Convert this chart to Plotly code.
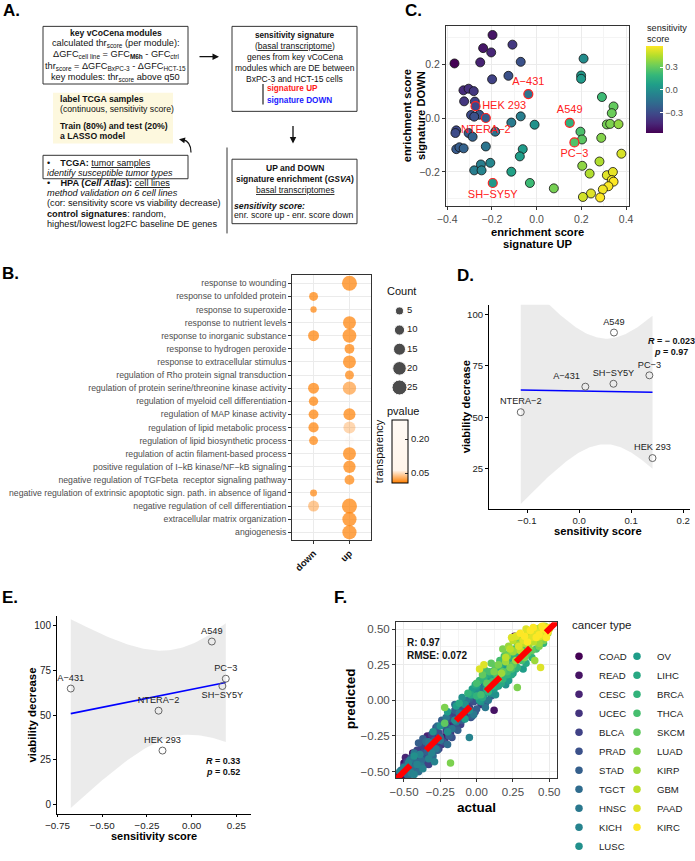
import numpy as np
import plotly.graph_objects as go
from plotly.colors import sample_colorscale

W, H = 695, 861
FONT = "Liberation Sans, Arial, Helvetica, sans-serif"

# ---------------- DATA ----------------
# Panel C: HPA cell lines, GSVA enrichment scores
hpa_up = [-0.197, -0.108, -0.239, -0.203, -0.367, -0.252, -0.071, -0.126, -0.199, -0.327,
          -0.304, -0.281, -0.324, -0.276, -0.293, -0.256, -0.279, -0.071, -0.113, -0.009,
          -0.359, -0.363, -0.304, -0.286, -0.185, -0.359, -0.345, -0.326, -0.227, -0.062,
          -0.075, -0.207, -0.249, -0.279, -0.246, -0.113, -0.030, 0.077, 0.210, 0.199,
          0.199, 0.292, 0.344, 0.336, 0.314, 0.329, 0.366, 0.196, 0.203, 0.289,
          0.379, 0.281, 0.204, 0.237, 0.314, 0.341, 0.336, 0.344, 0.321, 0.296,
          0.243, 0.207, 0.284]
hpa_down = [0.310, 0.274, 0.261, 0.245, 0.204, 0.208, 0.210, 0.158, 0.145, 0.104,
            0.110, 0.101, 0.063, 0.062, 0.012, 0.013, 0.006, 0.007, -0.016, -0.024,
            -0.045, -0.055, -0.055, -0.069, -0.050, -0.115, -0.108, -0.112, -0.105, -0.115,
            -0.142, -0.166, -0.172, -0.194, -0.194, -0.199, -0.241, -0.261, 0.222, 0.159,
            0.147, 0.079, 0.044, 0.019, -0.023, -0.021, -0.022, -0.050, -0.079, -0.073,
            -0.132, -0.161, -0.177, -0.206, -0.212, -0.200, -0.230, -0.236, -0.253, -0.265,
            -0.280, -0.293, -0.295]
cell_lines = ["A-431", "A549", "HEK 293", "NTERA-2", "PC-3", "SH-SY5Y"]
val_up = [-0.037, 0.148, -0.273, -0.227, 0.169, -0.196]
val_down = [0.090, -0.017, 0.045, 0.001, -0.090, -0.241]

# Panel B: GO enrichment dot plot
go_terms = ["response to wounding", "response to unfolded protein", "response to superoxide",
            "response to nutrient levels", "response to inorganic substance",
            "response to hydrogen peroxide", "response to extracellular stimulus",
            "regulation of Rho protein signal transduction",
            "regulation of protein serine/threonine kinase activity",
            "regulation of myeloid cell differentiation", "regulation of MAP kinase activity",
            "regulation of lipid metabolic process", "regulation of lipid biosynthetic process",
            "regulation of actin filament-based process",
            "positive regulation of I−kB kinase/NF−kB signaling",
            "negative regulation of TGFbeta  receptor signaling pathway",
            "negative regulation of extrinsic apoptotic sign. path. in absence of ligand",
            "negative regulation of cell differentiation", "extracellular matrix organization",
            "angiogenesis"]
b_term = [0, 1, 2, 3, 4, 4, 5, 6, 7, 8, 8, 9, 10, 10, 11, 11, 12, 12, 13, 14, 15, 16, 17, 17, 18, 19]
b_cluster = ["up", "down", "down", "up", "down", "up", "up", "up", "up", "down", "up", "down",
             "down", "up", "down", "up", "down", "up", "up", "up", "up", "down", "down", "up",
             "up", "up"]
b_count = [25, 7, 2, 18, 12, 21, 9, 18, 7, 12, 19, 8, 9, 15, 10, 15, 7, 7, 18, 16, 9, 3, 12, 25, 22, 22]
b_pvalue = [0.006, 0.006, 0.007, 0.006, 0.006, 0.006, 0.006, 0.006, 0.007, 0.006, 0.020, 0.006,
            0.006, 0.006, 0.006, 0.040, 0.007, 0.284, 0.006, 0.006, 0.007, 0.008, 0.030, 0.006,
            0.006, 0.006]
count_breaks = [5, 10, 15, 20, 25]
pvalue_breaks = [0.05, 0.20]

# Panels D / E: validation on 6 cell lines
viability = [64.9, 91.2, 30.2, 52.5, 70.4, 66.3]
score_ctrl = [0.012, 0.067, 0.141, -0.112, 0.135, 0.066]     # D (control signature)
score_sens = [-0.676, 0.113, -0.163, -0.185, 0.191, 0.172]   # E (sensitivity signature)
T975_DF4 = 2.776

# Panel F: LASSO predicted vs actual sensitivity score in TCGA
cancer_types = ["COAD", "READ", "CESC", "UCEC", "BLCA", "PRAD", "STAD", "TGCT", "HNSC", "KICH",
                "LUSC", "OV", "LIHC", "BRCA", "THCA", "SKCM", "LUAD", "KIRP", "GBM", "PAAD", "KIRC"]
f_actual = [
    [-0.52, -0.48, -0.45, -0.42, -0.40, -0.37, -0.33, -0.30, -0.27, 0.26, -0.50, -0.46, -0.44, -0.39, -0.35, -0.31, -0.25],
    [-0.50, -0.47, -0.44, -0.41, -0.38, -0.35, -0.31, -0.28, -0.24, 0.12, -0.53, -0.49, -0.43, -0.36, -0.33, -0.29, -0.21],
    [-0.49, -0.46, -0.43, -0.39, -0.34, -0.30, -0.26, -0.22, -0.18, -0.14, -0.10, -0.51, -0.45, -0.37, -0.32, -0.28, -0.20, -0.12],
    [-0.47, -0.44, -0.40, -0.36, -0.32, -0.27, -0.22, -0.18, -0.13, -0.08, -0.03, 0.03, -0.50, -0.42, -0.38, -0.30, -0.24, -0.15, -0.05],
    [-0.45, -0.41, -0.36, -0.31, -0.26, -0.21, -0.16, -0.11, -0.06, -0.01, 0.05, -0.48, -0.38, -0.33, -0.28, -0.19, -0.08, 0.02],
    [-0.42, -0.37, -0.32, -0.28, -0.23, -0.19, -0.14, -0.09, -0.04, 0.01, 0.06, -0.45, -0.34, -0.26, -0.17, -0.11, -0.02, 0.08],
    [-0.40, -0.34, -0.29, -0.24, -0.19, -0.15, -0.10, -0.05, 0.00, 0.05, 0.10, -0.44, -0.37, -0.27, -0.21, -0.13, -0.03, 0.03],
    [-0.48, -0.44, -0.40, -0.35, -0.30, -0.25, -0.20, -0.15, -0.09, -0.52, -0.46, -0.42, -0.38, -0.33, -0.27],
    [-0.46, -0.38, -0.28, -0.21, -0.17, -0.12, -0.07, -0.02, 0.03, 0.08, 0.13, -0.43, -0.33, -0.25, -0.14, -0.04, 0.06, 0.11],
    [-0.50, -0.45, -0.41, -0.37, -0.33, -0.29, -0.05, 0.05, -0.53, -0.47, -0.43, -0.39, -0.31, -0.02],
    [-0.43, -0.25, -0.15, -0.10, -0.05, 0.00, 0.06, 0.10, 0.15, 0.20, -0.30, -0.20, -0.08, 0.03, 0.08, 0.13, 0.18],
    [-0.20, -0.08, -0.03, 0.02, 0.07, 0.12, 0.17, 0.22, 0.27, 0.32, -0.14, 0.00, 0.05, 0.10, 0.15, 0.20, 0.25],
    [-0.12, -0.01, 0.04, 0.09, 0.14, 0.19, 0.24, 0.29, 0.34, 0.39, -0.04, 0.07, 0.12, 0.17, 0.22, 0.27, 0.32],
    [-0.06, 0.02, 0.08, 0.13, 0.18, 0.23, 0.28, 0.33, 0.38, 0.43, 0.46, 0.00, 0.05, 0.11, 0.16, 0.21, 0.26, 0.36],
    [0.00, 0.06, 0.11, 0.16, 0.21, 0.26, 0.31, 0.36, 0.41, 0.46, 0.03, 0.09, 0.14, 0.19, 0.24, 0.34, 0.44],
    [-0.22, 0.04, 0.10, 0.15, 0.20, 0.25, 0.30, 0.35, 0.40, 0.45, 0.07, 0.13, 0.18, 0.23, 0.33, 0.38, 0.42],
    [-0.22, -0.18, 0.12, 0.18, 0.23, 0.28, 0.28, 0.33, 0.38, 0.43, 0.48, 0.15, 0.21, 0.26, 0.31, 0.36, 0.41, 0.46],
    [0.17, 0.22, 0.27, 0.31, 0.36, 0.40, 0.41, 0.45, 0.49, 0.20, 0.25, 0.29, 0.34, 0.38, 0.43, 0.47],
    [0.20, 0.25, 0.30, 0.35, 0.39, 0.44, 0.47, 0.50, 0.23, 0.28, 0.33, 0.37, 0.42, 0.46],
    [0.02, 0.05, 0.24, 0.29, 0.34, 0.38, 0.42, 0.46, 0.44, 0.27, 0.32, 0.36, 0.40, 0.44, 0.48],
    [0.30, 0.35, 0.39, 0.43, 0.46, 0.48, 0.50, 0.33, 0.37, 0.41, 0.45, 0.49],
]
f_predicted = [
    [-0.50, -0.45, -0.41, -0.47, -0.36, -0.43, -0.30, -0.36, -0.33, 0.45, -0.53, -0.49, -0.44, -0.40, -0.34, -0.41, -0.27],
    [-0.44, -0.51, -0.37, -0.42, -0.31, -0.39, -0.27, -0.22, -0.30, -0.07, -0.52, -0.47, -0.48, -0.45, -0.35, -0.30, -0.25],
    [-0.40, -0.48, -0.44, -0.45, -0.25, -0.31, -0.23, -0.28, -0.16, -0.20, -0.05, -0.49, -0.42, -0.38, -0.42, -0.26, -0.12, -0.14],
    [-0.43, -0.50, -0.40, -0.33, -0.38, -0.27, -0.17, -0.23, -0.12, -0.10, 0.01, -0.03, -0.46, -0.38, -0.43, -0.33, -0.31, -0.16, -0.05],
    [-0.46, -0.35, -0.42, -0.24, -0.34, -0.21, -0.10, -0.17, -0.03, -0.08, 0.07, -0.43, -0.32, -0.45, -0.29, -0.24, -0.12, 0.00],
    [-0.49, -0.37, -0.33, -0.19, -0.29, -0.13, -0.19, -0.04, -0.12, 0.04, -0.02, -0.40, -0.41, -0.23, -0.26, -0.08, -0.01, 0.06],
    [-0.30, -0.36, -0.28, -0.14, -0.25, -0.07, -0.14, 0.01, -0.06, 0.10, 0.03, -0.41, -0.27, -0.35, -0.18, -0.21, -0.11, 0.02],
    [-0.52, -0.47, -0.50, -0.29, -0.39, -0.26, -0.31, -0.03, -0.01, -0.49, -0.52, -0.43, -0.42, -0.32, -0.18],
    [-0.42, -0.46, -0.34, -0.12, -0.20, -0.09, 0.00, -0.10, 0.08, 0.00, 0.12, -0.37, -0.29, -0.28, -0.15, 0.03, -0.05, 0.07],
    [-0.47, -0.51, -0.45, -0.48, -0.41, -0.43, -0.26, 0.15, -0.50, -0.44, -0.52, -0.38, -0.37, 0.05],
    [-0.39, -0.18, -0.14, 0.02, -0.07, 0.06, 0.12, 0.05, 0.18, 0.11, -0.22, -0.22, -0.03, -0.01, 0.14, 0.04, 0.24],
    [-0.08, -0.13, 0.08, 0.00, 0.15, 0.08, 0.23, 0.14, 0.30, 0.22, -0.04, 0.10, 0.04, 0.17, 0.10, 0.25, 0.19],
    [-0.02, 0.11, 0.02, 0.18, 0.10, 0.27, 0.18, 0.34, 0.26, 0.42, 0.04, 0.08, 0.21, 0.12, 0.28, 0.22, 0.36],
    [0.05, 0.14, 0.06, 0.22, 0.15, 0.31, 0.23, 0.38, 0.30, 0.47, 0.40, 0.03, 0.16, 0.10, 0.24, 0.18, 0.33, 0.40],
    [0.12, 0.21, 0.13, 0.28, 0.20, 0.36, 0.28, 0.44, 0.36, 0.50, 0.04, 0.20, 0.17, 0.31, 0.22, 0.35, 0.44],
    [-0.16, 0.18, 0.26, 0.15, 0.32, 0.25, 0.41, 0.33, 0.48, 0.43, 0.12, 0.24, 0.20, 0.34, 0.39, 0.35, 0.50],
    [-0.05, -0.44, 0.20, 0.36, 0.23, 0.09, 0.40, 0.30, 0.46, 0.38, 0.49, 0.25, 0.31, 0.35, 0.34, 0.42, 0.45, 0.42],
    [0.19, 0.38, 0.28, 0.44, 0.37, 0.28, 0.50, 0.44, 0.47, 0.27, 0.34, 0.39, 0.42, 0.44, 0.40, 0.52],
    [0.30, 0.42, 0.35, 0.47, 0.41, 0.51, 0.45, 0.50, 0.36, 0.45, 0.40, 0.48, 0.44, 0.49],
    [0.22, 0.25, 0.44, 0.38, 0.50, 0.44, 0.48, 0.52, 0.23, 0.45, 0.42, 0.49, 0.47, 0.45, 0.48],
    [0.47, 0.41, 0.51, 0.46, 0.50, 0.44, 0.51, 0.45, 0.49, 0.44, 0.52, 0.48],
]
f_stats = "R: 0.97<br>RMSE: 0.072"

# ---------------- helpers ----------------
def px(x):
    return x / W

def py(y):
    return 1 - y / H

def xd(a, b):
    return [a / W, b / W]

def yd(top, bottom):
    return [1 - bottom / H, 1 - top / H]

def ann(x, y, text, size=8.5, color="#111111", xanchor="center", yanchor="middle",
        align="center", angle=0):
    return dict(x=px(x), y=py(y), xref="paper", yref="paper", text=text, showarrow=False,
                font=dict(size=size, color=color, family=FONT), xanchor=xanchor,
                yanchor=yanchor, align=align, textangle=angle, borderpad=0)

def lines(x, ys, texts, sizes, xanchor="center", color="#111111"):
    if not isinstance(sizes, (list, tuple)):
        sizes = [sizes] * len(texts)
    return [ann(x, y, t, size=s, xanchor=xanchor, color=color) for y, t, s in zip(ys, texts, sizes)]

def rect(x0, y0, x1, y1, line="#333333", fill=None, width=1):
    d = dict(type="rect", xref="paper", yref="paper", x0=px(x0), x1=px(x1), y0=py(y0), y1=py(y1),
             line=dict(color=line, width=width))
    if fill:
        d["fillcolor"] = fill
        d["line"] = dict(width=0)
        d["layer"] = "below"
    return d

def vline(x, y0, y1, color="#333333", width=1):
    return dict(type="line", xref="paper", yref="paper", x0=px(x), x1=px(x), y0=py(y0), y1=py(y1),
                line=dict(color=color, width=width))

def lm_band(x, y):
    x = np.asarray(x, float)
    y = np.asarray(y, float)
    b1, b0 = np.polyfit(x, y, 1)
    xg = np.linspace(x.min(), x.max(), 80)
    yh = b0 + b1 * xg
    n = len(x)
    s = np.sqrt(((y - (b0 + b1 * x)) ** 2).sum() / (n - 2))
    sxx = ((x - x.mean()) ** 2).sum()
    se = s * np.sqrt(1 / n + (xg - x.mean()) ** 2 / sxx)
    return xg, yh, yh - T975_DF4 * se, yh + T975_DF4 * se

def minus(s):
    return s.replace("-", "\u2212")

fig = go.Figure()
annotations = []
shapes = []

# ---------------- Panel A (schematic) ----------------
U = "<span style='text-decoration:underline'>"
NB = "\u00a0"
shapes += [rect(43, 27, 188, 86), rect(232, 27, 357, 114), rect(232, 163, 357, 229),
           rect(53, 95, 173, 147, fill="#FDF8DE"), rect(43, 159, 188, 183),
           vline(227, 151, 239, width=1), vline(263, 86, 107, color="#222222", width=1.2)]
annotations += lines(115.5, [34, 45, 56, 67.7, 79], [
    "<b>key vCoCena modules</b>",
    "calculated thr<sub>score</sub> (per module):",
    "ΔGFC<sub>cell line</sub> = GFC<sub><b>M6h</b></sub> - GFC<sub>ctrl</sub>",
    "thr<sub>score</sub> = ΔGFC<sub>BxPC-3</sub> - ΔGFC<sub>HCT-15</sub>",
    "key modules: thr<sub>score</sub> above q50"], [8.6, 9.2, 9.2, 9.2, 9.2])
annotations += lines(294.5, [36, 47.3, 58.7, 70, 81], [
    "<b>sensitivity signature</b>",
    "(" + U + "basal transcriptome</span>)",
    "genes from key vCoCena",
    "modules which are DE between",
    "BxPC-3 and HCT-15 cells"], [8.2, 8.5, 8.5, 8.5, 8.5])
annotations += lines(266, [91, 102.7], [
    "<b><span style='color:#FF1A1A'>signature UP</span></b>",
    "<b><span style='color:#1A1AFF'>signature DOWN</span></b>"], 8.2, xanchor="left")
annotations += lines(294.5, [172.3, 183, 195], [
    "<b>UP and DOWN</b>",
    "<b>signature enrichment (<i>GSVA</i>)</b>",
    U + "basal transcriptomes</span>"], 8.5)
annotations += lines(233, [210.7, 220.5], [
    "<b><i>sensitivity score:</i></b>",
    "enr. score up - enr. score down"], 8.7, xanchor="left")
annotations += lines(59, [101.7, 111.7, 129.3, 138.8], [
    "<b>label TCGA samples</b>",
    "(continuous, sensitivity score)",
    "<b>Train (80%) and test (20%)</b>",
    "<b>a LASSO model</b>"], 8.7, xanchor="left")
annotations += lines(46, [166.5, 177], [
    "•" + NB * 4 + "<b>TCGA:</b> " + U + "tumor samples</span>",
    "<i>identify susceptible tumor types</i>"], 9.0, xanchor="left")
annotations += lines(46, [187, 197.5, 208.3, 219, 229.3], [
    "•" + NB * 4 + "<b>HPA (<i>Cell Atlas</i>):</b> " + U + "cell lines</span>",
    "<i>method validation on 6 cell lines</i>",
    "(cor: sensitivity score vs viability decrease)",
    "<b>control signatures</b>: random,",
    "highest/lowest log2FC baseline DE genes"], 9.2, xanchor="left")
# arrows
annotations += [
    dict(x=px(219), y=py(58), xref="paper", yref="paper", ax=-21, ay=0, text="", showarrow=True,
         arrowhead=2, arrowsize=1, arrowwidth=1.3, arrowcolor="#111111"),
    dict(x=px(293), y=py(147), xref="paper", yref="paper", ax=0, ay=-19, text="", showarrow=True,
         arrowhead=2, arrowsize=1, arrowwidth=1.3, arrowcolor="#111111"),
    dict(x=px(179), y=py(142.5), xref="paper", yref="paper", ax=5, ay=1, text="", showarrow=True,
         arrowhead=2, arrowsize=1, arrowwidth=1.2, arrowcolor="#111111"),
]
shapes.append(dict(type="path", xref="paper", yref="paper",
                   path=f"M {px(191)} {py(156)} Q {px(191)} {py(145)} {px(183)} {py(143)}",
                   line=dict(color="#111111", width=1.2)))

# panel letters
for lab, x, y in [("A.", 2, 11), ("B.", 1, 280), ("C.", 404, 11), ("D.", 456, 282),
                  ("E.", 1, 612), ("F.", 333, 612)]:
    annotations.append(ann(x, y, f"<b>{lab}</b>", size=17, color="#000000", xanchor="left"))

# ---------------- Panel C ----------------
score_hpa = [u - d for u, d in zip(hpa_up, hpa_down)]
score_val = [u - d for u, d in zip(val_up, val_down)]
all_scores = score_hpa + score_val
fig.add_trace(go.Scatter(x=hpa_up, y=hpa_down, mode="markers", xaxis="x", yaxis="y",
                         marker=dict(size=9, color=score_hpa, coloraxis="coloraxis",
                                     line=dict(color="#111111", width=0.8)),
                         showlegend=False, hoverinfo="skip"))
fig.add_trace(go.Scatter(x=val_up, y=val_down, mode="markers+text", xaxis="x", yaxis="y",
                         text=[minus(c) for c in cell_lines],
                         textposition=["top center", "top center", "middle right", "bottom center",
                                       "bottom center", "bottom center"],
                         textfont=dict(color="#FF2020", size=11, family=FONT),
                         marker=dict(size=9, color=score_val, coloraxis="coloraxis",
                                     line=dict(color="#FF2020", width=1.2)),
                         showlegend=False, hoverinfo="skip"))
annotations += lines(646, [28.5, 40], ["sensitivity", "score"], 9.2, xanchor="left", color="#222222")

# ---------------- Panel B ----------------
def dot_size(c):
    return float(np.sqrt(24 + 8.05 * c))

fig.add_trace(go.Scatter(x=b_cluster, y=[go_terms[i] for i in b_term], mode="markers",
                         xaxis="x2", yaxis="y2",
                         marker=dict(size=[dot_size(c) for c in b_count], color=b_pvalue,
                                     coloraxis="coloraxis2", line=dict(width=0)),
                         showlegend=False, hoverinfo="skip"))
# Count legend
fig.add_trace(go.Scatter(x=[0.19] * len(count_breaks), y=list(range(len(count_breaks))),
                         mode="markers", xaxis="x6", yaxis="y6",
                         marker=dict(size=[dot_size(c) for c in count_breaks], color="black"),
                         showlegend=False, hoverinfo="skip"))
fig.add_trace(go.Scatter(x=[0.34] * len(count_breaks), y=list(range(len(count_breaks))),
                         mode="text", text=[str(c) for c in count_breaks], textposition="middle right",
                         textfont=dict(size=9.5, color="#222222", family=FONT), xaxis="x6", yaxis="y6",
                         showlegend=False, hoverinfo="skip"))
annotations += [ann(386, 298, "Count", size=11, color="#111111", xanchor="left"),
                ann(386, 421, "pvalue", size=11, color="#111111", xanchor="left"),
                ann(379, 462, "transparency", size=11, color="#111111", angle=-90)]

# ---------------- Panels D / E ----------------
def corr_panel(xv, ax, ayy, positions):
    xg, yh, lo, hi = lm_band(xv, viability)
    fig.add_trace(go.Scatter(x=np.concatenate([xg, xg[::-1]]), y=np.concatenate([lo, hi[::-1]]),
                             fill="toself", fillcolor="rgba(180,180,180,0.27)", line=dict(width=0),
                             mode="lines", xaxis=ax, yaxis=ayy, showlegend=False, hoverinfo="skip"))
    fig.add_trace(go.Scatter(x=xg, y=yh, mode="lines", line=dict(color="#0000FF", width=1.6),
                             xaxis=ax, yaxis=ayy, showlegend=False, hoverinfo="skip"))
    fig.add_trace(go.Scatter(x=xv, y=viability, mode="markers+text", xaxis=ax, yaxis=ayy,
                             text=[minus(c) for c in cell_lines], textposition=positions,
                             textfont=dict(size=9.2, color="#222222", family=FONT),
                             marker=dict(symbol="circle-open", size=7, color="#666666",
                                         line=dict(width=1)),
                             showlegend=False, hoverinfo="skip", cliponaxis=False))

corr_panel(score_ctrl, "x3", "y3", ["top left", "top center", "top center", "top center",
                                    "top center", "top center"])
annotations += lines(671, [349, 360.5], ["<b><i>R</i> = − 0.023</b>", "<b><i>p</i> = 0.97</b>"], 9)

corr_panel(score_sens, "x4", "y4", ["top center", "top center", "top center", "top center",
                                    "top center", "bottom center"])
annotations += lines(223, [779, 790.5], ["<b><i>R</i> = 0.33</b>", "<b><i>p</i> = 0.52</b>"], 9)

# ---------------- Panel F ----------------
f_range = [-0.555, 0.553]
colors = sample_colorscale("Viridis", [i / (len(cancer_types) - 1) for i in range(len(cancer_types))])
for i, ct in enumerate(cancer_types):
    fig.add_trace(go.Scatter(x=f_actual[i], y=f_predicted[i], mode="markers", name=ct,
                             xaxis="x5", yaxis="y5", marker=dict(size=7.5, color=colors[i]),
                             legend="legend" if i < 11 else "legend2", hoverinfo="skip"))
fig.add_trace(go.Scatter(x=f_range, y=f_range, mode="lines", xaxis="x5", yaxis="y5",
                         line=dict(color="#FF0000", width=6, dash="20px,22px"),
                         showlegend=False, hoverinfo="skip"))
annotations.append(ann(406, 664, "<b>" + f_stats + "</b>", size=10, color="#111111",
                       xanchor="left", align="left"))
annotations.append(ann(571, 640, "cancer type", size=11.5, color="#1a1a1a", xanchor="left"))

# ---------------- axis titles ----------------
annotations += lines(537.5, [238, 249.5], ["<b>enrichment score</b>", "<b>signature UP</b>"],
                     11.2, color="#000000")
annotations += [
    ann(414, 119, "<b>enrichment score<br>signature DOWN</b>", size=11.2, color="#000000", angle=-90),
    ann(598, 544, "<b>sensitivity score</b>", size=11.2, color="#000000"),
    ann(466, 417, "<b>viability decrease</b>", size=11.2, color="#000000", angle=-90),
    ann(154, 855.5, "<b>sensitivity score</b>", size=11, color="#000000"),
    ann(31.5, 732, "<b>viability decrease</b>", size=11.4, color="#000000", angle=-90),
    ann(476.7, 827, "<b>actual</b>", size=13.5, color="#000000"),
    ann(350, 716, "<b>predicted</b>", size=13.5, color="#000000", angle=-90),
]

# ---------------- axes ----------------
GRID = "#EBEBEB"
MINOR = "#F4F4F4"
BORDER = "#333333"
TICKC = "#4D4D4D"

def bw_axis(domain, anchor, rng, tickvals, ticktext, minor_vals, size):
    return dict(domain=domain, anchor=anchor, range=rng, tickvals=tickvals, ticktext=ticktext,
                showline=True, mirror=True, linecolor=BORDER, linewidth=1, ticks="outside",
                ticklen=3, tickcolor=BORDER, showgrid=True, gridcolor=GRID, gridwidth=1,
                zeroline=False, tickfont=dict(size=size, color=TICKC, family=FONT),
                minor=dict(tickvals=minor_vals, showgrid=True, gridcolor=MINOR, gridwidth=0.6,
                           ticks=""), automargin=False)

def classic_axis(domain, anchor, rng, tickvals, ticktext, size, ticklen=3):
    return dict(domain=domain, anchor=anchor, range=rng, tickvals=tickvals, ticktext=ticktext,
                showline=True, mirror=False, linecolor="#000000", linewidth=1, ticks="outside",
                ticklen=ticklen, tickcolor="#000000", showgrid=False, zeroline=False,
                tickfont=dict(size=size, color="#222222", family=FONT), automargin=False)

layout = dict(
    width=W, height=H, margin=dict(l=0, r=0, t=0, b=0), paper_bgcolor="white",
    plot_bgcolor="rgba(0,0,0,0)", font=dict(family=FONT, color="#111111"),
    annotations=annotations, shapes=shapes,
    # C
    xaxis=bw_axis(xd(446, 629), "y", [-0.405, 0.413], [-0.4, -0.2, 0, 0.2, 0.4],
                  ["−0.4", "−0.2", "0.0", "0.2", "0.4"], [-0.3, -0.1, 0.1, 0.3], 10.5),
    yaxis=bw_axis(yd(27, 211), "x", [-0.327, 0.342], [-0.2, 0, 0.2], ["−0.2", "0.0", "0.2"],
                  [-0.3, -0.1, 0.1, 0.3], 10.5),
    coloraxis=dict(colorscale="Viridis", cmin=min(all_scores), cmax=max(all_scores),
                   colorbar=dict(x=px(646), xanchor="left", xpad=0, y=py(47), yanchor="top", ypad=0,
                                 thickness=17, thicknessmode="pixels", len=87, lenmode="pixels",
                                 tickvals=[-0.3, 0, 0.3], ticktext=["−0.3", "0.0", "0.3"],
                                 ticks="inside", ticklen=3, tickcolor="white",
                                 tickfont=dict(size=9, color=TICKC, family=FONT), outlinewidth=0)),
    # B
    xaxis2=dict(domain=xd(292, 371), anchor="y2", type="category", categoryorder="array",
                categoryarray=["down", "up"], range=[-0.6, 1.6], tickvals=["down", "up"],
                ticktext=["<b>down</b>", "<b>up</b>"], tickangle=-45, showline=True, mirror=True,
                linecolor=BORDER, ticks="outside", ticklen=3, tickcolor=BORDER, showgrid=True,
                gridcolor=GRID, tickfont=dict(size=9.5, color="#111111", family=FONT),
                automargin=False, zeroline=False),
    yaxis2=dict(domain=yd(282, 553), anchor="x2", type="category", categoryorder="array",
                categoryarray=go_terms[::-1], range=[-0.6, 19.6], showline=True, mirror=True,
                linecolor=BORDER, ticks="outside", ticklen=3, tickcolor=BORDER, showgrid=True,
                gridcolor=GRID, tickfont=dict(size=8.7, color=TICKC, family=FONT),
                automargin=False, zeroline=False),
    coloraxis2=dict(colorscale=[[0, "rgba(255,127,0,1)"], [0.2, "rgba(255,127,0,0.08)"],
                                [1, "rgba(255,127,0,0.04)"]],
                    cmin=min(b_pvalue), cmax=max(b_pvalue),
                    colorbar=dict(x=px(392), xanchor="left", xpad=0, y=py(430), yanchor="top", ypad=0,
                                  thickness=16, thicknessmode="pixels", len=63, lenmode="pixels",
                                  tickvals=pvalue_breaks, ticktext=["0.05", "0.20"], ticks="inside",
                                  ticklen=3, tickcolor="#333333",
                                  tickfont=dict(size=9.5, color="#222222", family=FONT),
                                  outlinecolor="#000000", outlinewidth=1)),
    # count legend axes
    xaxis6=dict(domain=xd(380, 440), anchor="y6", range=[-0.2, 1], visible=False),
    yaxis6=dict(domain=yd(308.5, 406.5), anchor="x6", range=[4.5, -0.5], visible=False),
    # D
    xaxis3=classic_axis(xd(489, 690), "y3", [-0.173, 0.213], [-0.1, 0, 0.1, 0.2],
                        ["−0.1", "0.0", "0.1", "0.2"], 9.6),
    yaxis3=classic_axis(yd(312, 521), "x3", [5.5, 104.7], [25, 50, 75, 100],
                        ["25", "50", "75", "100"], 9.6),
    # E
    xaxis4=classic_axis(xd(57, 251), "y4", [-0.753, 0.332], [-0.75, -0.5, -0.25, 0, 0.25],
                        ["−0.75", "−0.50", "−0.25", "0.00", "0.25"], 9.8, ticklen=2.5),
    yaxis4=classic_axis(yd(631, 833), "x4", [-5.1, 105.3], [0, 25, 50, 75, 100],
                        ["0", "25", "50", "75", "100"], 10),
    # F
    xaxis5=bw_axis(xd(396, 557), "y5", f_range, [-0.5, -0.25, 0, 0.25, 0.5],
                   ["−0.50", "−0.25", "0.00", "0.25", "0.50"], [-0.375, -0.125, 0.125, 0.375], 11.5),
    yaxis5=bw_axis(yd(637, 797), "x5", [-0.548, 0.548], [-0.5, -0.25, 0, 0.25, 0.5],
                   ["−0.50", "−0.25", "0.00", "0.25", "0.50"], [-0.375, -0.125, 0.125, 0.375], 11.5),
    legend=dict(x=px(559), y=py(657), xanchor="left", yanchor="top", bgcolor="rgba(0,0,0,0)",
                font=dict(size=9.6, color="#1a1a1a", family=FONT), itemsizing="trace",
                tracegroupgap=0, borderwidth=0),
    legend2=dict(x=px(617), y=py(657), xanchor="left", yanchor="top", bgcolor="rgba(0,0,0,0)",
                 font=dict(size=9.6, color="#1a1a1a", family=FONT), itemsizing="trace",
                 tracegroupgap=0, borderwidth=0),
)
fig.update_layout(**layout)
fig.write_html("out.html", config={"displayModeBar": False},
               post_script="document.body.style.margin='0px';document.body.style.overflow='hidden';")
